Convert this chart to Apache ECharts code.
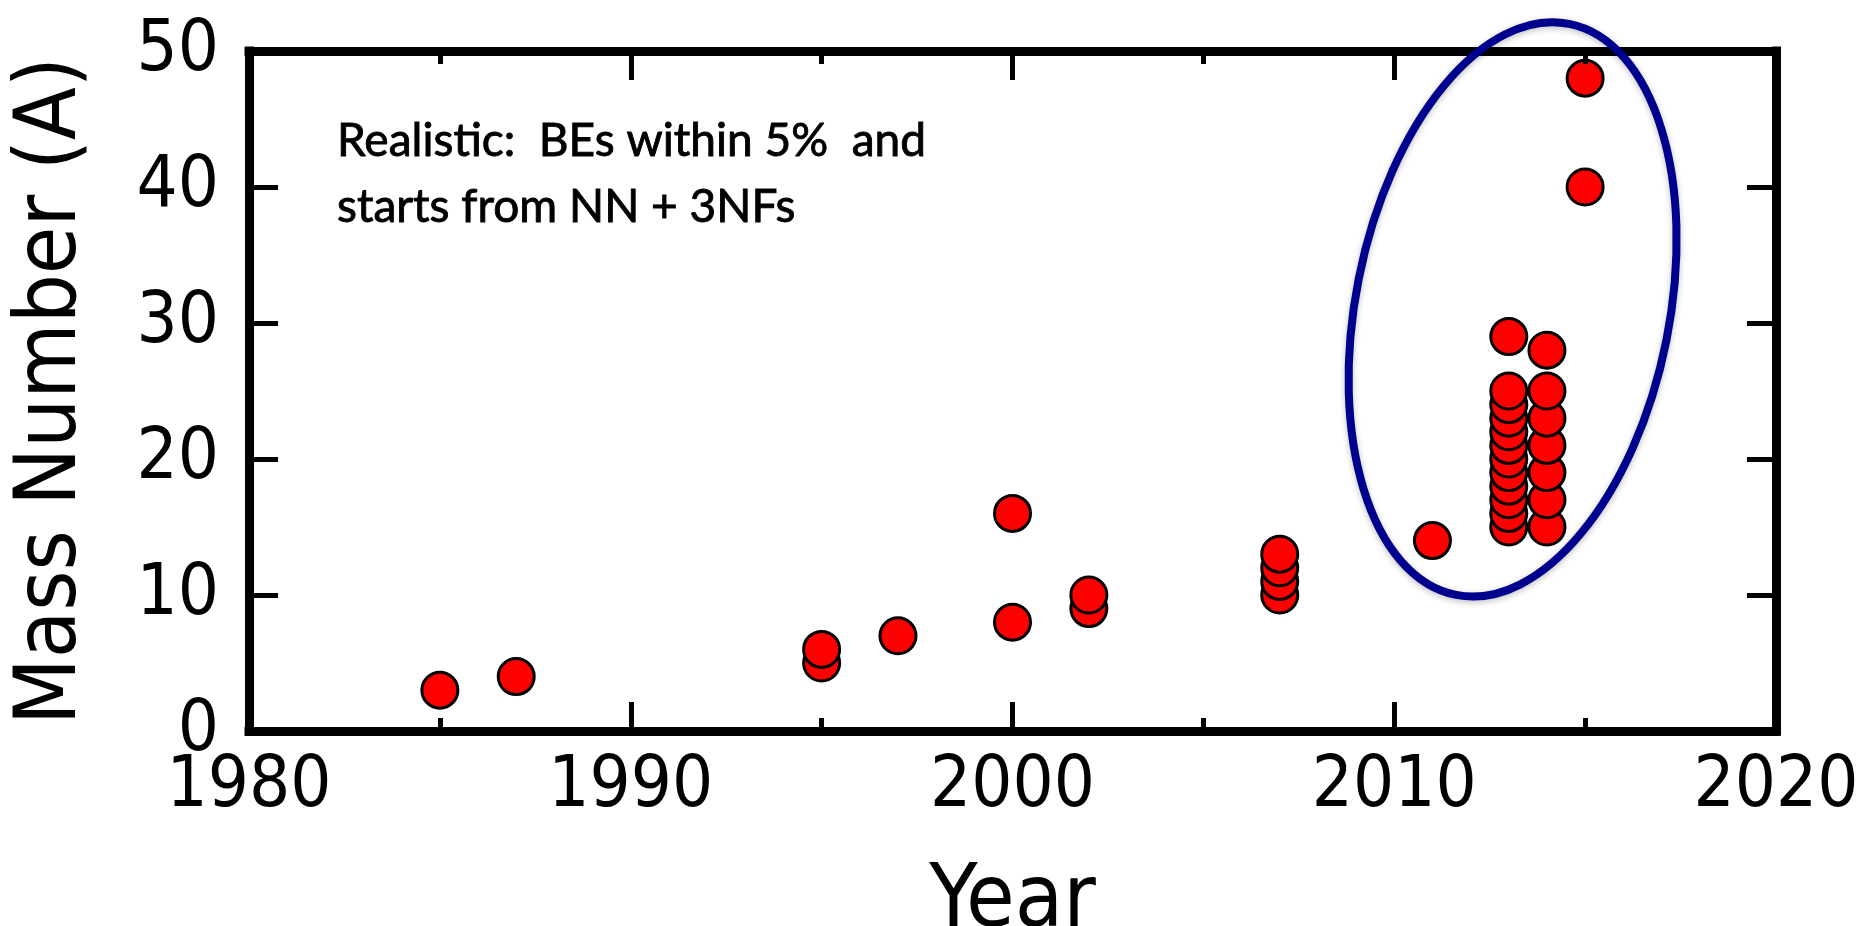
<!DOCTYPE html>
<html>
<head>
<meta charset="utf-8">
<script src="https://cdn.jsdelivr.net/npm/echarts@6/dist/echarts.min.js"></script>
<style>
  html, body { margin: 0; padding: 0; background: #ffffff; overflow: hidden; }
  #chart { width: 1864px; height: 926px; }
</style>
</head>
<body>
<div id="chart"></div>
<script>
// Ab initio calculations: year of publication vs. nuclear mass number
const years = [
  1985, 1987, 1995, 1995, 1997, 2000, 2000, 2002, 2002,
  2007, 2007, 2007, 2007, 2011,
  2013, 2013, 2013, 2013, 2013, 2013, 2013, 2013, 2013, 2013, 2013, 2013,
  2014, 2014, 2014, 2014, 2014, 2014, 2014,
  2015, 2015
];
const massNumbers = [
  3, 4, 5, 6, 7, 8, 16, 9, 10,
  10, 11, 12, 13, 14,
  15, 16, 17, 18, 19, 20, 21, 22, 23, 24, 25, 29,
  15, 17, 19, 21, 23, 25, 28,
  40, 48
];
const yearRange = [1980, 2020];
const massRange = [0, 50];
const noteLines = ['Realistic:  BEs within 5%  and', 'starts from NN + 3NFs'];
const xTitle = 'Year';
const yTitle = 'Mass Number (A)';

const AXIS_FONT = "'DejaVu Sans Condensed', 'DejaVu Sans', sans-serif";
const LINE_W = 9;

function frameAxis(extra) {
  return Object.assign({
    type: 'value',
    z: 5,
    splitLine: { show: false },
    axisLine: { show: true, onZero: false, lineStyle: { color: '#000', width: LINE_W, cap: 'square' } },
    axisTick: { show: true, inside: true, length: 29, lineStyle: { color: '#000', width: 5 } },
    axisLabel: { show: false }
  }, extra);
}

const chart = echarts.init(document.getElementById('chart'), null, { renderer: 'canvas' });

const xCommon = { min: yearRange[0], max: yearRange[1], interval: 10,
  minorTick: { show: true, splitNumber: 2, length: 13, lineStyle: { color: '#000', width: 5 } } };
const yCommon = { min: massRange[0], max: massRange[1], interval: 10 };

chart.setOption({
  animation: false,
  backgroundColor: '#ffffff',
  grid: { left: 249, right: 88, top: 51, bottom: 195, containLabel: false, outerBoundsMode: 'none' },
  xAxis: [
    frameAxis(Object.assign({}, xCommon, {
      position: 'bottom',
      name: xTitle,
      nameLocation: 'middle',
      nameGap: 128,
      nameTextStyle: { fontFamily: AXIS_FONT, fontSize: 88, color: '#000' },
      axisLabel: { show: true, margin: 20, fontFamily: AXIS_FONT, fontSize: 72, color: '#000',
        formatter: v => String(v) }
    })),
    frameAxis(Object.assign({}, xCommon, { position: 'top' }))
  ],
  yAxis: [
    frameAxis(Object.assign({}, yCommon, {
      position: 'left',
      name: yTitle,
      nameLocation: 'middle',
      nameGap: 153,
      nameRotate: 90,
      nameTextStyle: { fontFamily: AXIS_FONT, fontSize: 86, color: '#000' },
      axisLabel: { show: true, margin: 30, fontFamily: AXIS_FONT, fontSize: 72, color: '#000',
        padding: [0, 0, 20, 0], formatter: v => String(v) }
    })),
    frameAxis(Object.assign({}, yCommon, { position: 'right' }))
  ],
  series: [{
    type: 'scatter',
    xAxisIndex: 0,
    yAxisIndex: 0,
    z: 2,
    symbol: 'circle',
    symbolSize: 36,
    itemStyle: { color: '#ff0000', borderColor: '#000000', borderWidth: 3, opacity: 1 },
    data: years.map((y, i) => [y, massNumbers[i]])
  }]
});

// annotation text, set in a narrow humanist face
const NOTE_FONT_SIZE = 47;
const measure = document.createElement('canvas').getContext('2d');
measure.font = NOTE_FONT_SIZE + 'px Lato';
const noteScale = 589 / measure.measureText(noteLines[0]).width;

// ring around the recent calculations, anchored in data space
const ringCenter = chart.convertToPixel({ gridIndex: 0 }, [2013.1, 31]);
const unitY = Math.abs(chart.convertToPixel({ yAxisIndex: 0 }, 0) - chart.convertToPixel({ yAxisIndex: 0 }, 1));
const unitX = Math.abs(chart.convertToPixel({ xAxisIndex: 0 }, 2001) - chart.convertToPixel({ xAxisIndex: 0 }, 2000));

chart.setOption({
  graphic: [
    ...noteLines.map((t, i) => ({
      type: 'text',
      x: 337,
      y: 141 + i * 66,
      scaleX: noteScale,
      z: 10,
      style: {
        text: t,
        x: 0, y: 0,
        fontFamily: 'Lato',
        fontSize: NOTE_FONT_SIZE,
        fill: '#000',
        stroke: '#000',
        lineWidth: 0.9,
        align: 'left',
        verticalAlign: 'middle'
      }
    })),
    {
      type: 'ellipse',
      x: ringCenter[0],
      y: ringCenter[1],
      rotation: -0.1955,
      z: 100,
      shape: { cx: 0, cy: 0, rx: 4.11 * unitX, ry: 21.4 * unitY },
      style: {
        fill: 'none',
        stroke: '#00008f',
        lineWidth: 8,
        shadowBlur: 6,
        shadowColor: 'rgba(0,0,0,0.25)',
        shadowOffsetY: 2
      }
    }
  ]
});
</script>
</body>
</html>
